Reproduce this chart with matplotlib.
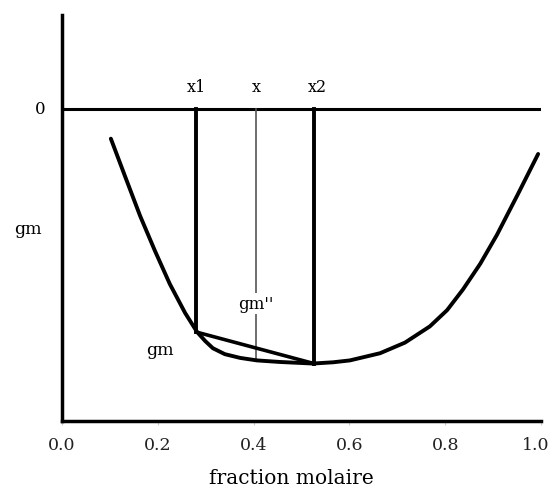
import matplotlib
matplotlib.use("Agg")
import matplotlib.pyplot as plt
from matplotlib.transforms import ScaledTranslation

plt.rcParams['font.family'] = 'DejaVu Serif'

# free-energy-of-mixing curve gm(x)
curve_x = [0.102, 0.132, 0.163, 0.194, 0.225, 0.257, 0.282, 0.299, 0.315, 0.340,
           0.372, 0.407, 0.455, 0.524, 0.566, 0.601, 0.664, 0.716, 0.768, 0.804,
           0.837, 0.873, 0.908, 0.952, 0.994]
curve_gm = [-0.096, -0.218, -0.343, -0.455, -0.561, -0.654, -0.715, -0.744, -0.767, -0.786,
            -0.798, -0.806, -0.811, -0.816, -0.812, -0.806, -0.783, -0.749, -0.697, -0.645,
            -0.579, -0.497, -0.404, -0.273, -0.145]

# common tangent / chord end points and the mean composition
x1, gm1 = 0.280, -0.715
x2, gm2 = 0.526, -0.816
x_mid, gm_mid = 0.405, -0.806

xticks = [0.0, 0.2, 0.4, 0.6, 0.8, 1.0]
xtick_labels = ['0.0', '0.2', '0.4', '0.6', '0.8', '1.0']

fig = plt.figure(figsize=(5.53, 4.89), dpi=100)
ax = fig.add_axes([62 / 553, 67 / 489, 479 / 553, 406 / 489])

ax.set_xlim(0, 1)
ax.set_ylim(-1.0, 0.30)

# zero level
ax.axhline(0, color='black', lw=2.2, zorder=2)

# curve and chord
ax.plot(curve_x, curve_gm, color='black', lw=2.8, solid_capstyle='round',
        solid_joinstyle='round', zorder=3)
ax.plot([x1, x2], [gm1, gm2], color='black', lw=2.6, solid_capstyle='round', zorder=3)

# verticals at x1, x2 and the thin one at x
ax.plot([x1, x1], [0, gm1], color='black', lw=2.8, zorder=3)
ax.plot([x2, x2], [0, gm2], color='black', lw=2.8, zorder=3)
ax.plot([x_mid, x_mid], [0, gm_mid], color='#555555', lw=1.2, zorder=2)

# labels above the zero line
for xv, lab in [(x1, 'x1'), (x_mid, 'x'), (x2 + 0.008, 'x2')]:
    ax.text(xv, 0.045, lab, ha='center', va='bottom', fontsize=11.5)

ax.text(x_mid, -0.625, "gm''", ha='center', va='center', fontsize=12,
        bbox=dict(facecolor='white', edgecolor='none', pad=1.5), zorder=4)
ax.text(0.205, -0.77, 'gm', ha='center', va='center', fontsize=12.5)

ax.text(-0.046, 0.0, '0', ha='center', va='center', fontsize=12, clip_on=False)
ax.text(-0.071, -0.385, 'gm', ha='center', va='center', fontsize=12.5, clip_on=False)

# axes styling
for side in ['top', 'right']:
    ax.spines[side].set_visible(False)
for side in ['left', 'bottom']:
    ax.spines[side].set_linewidth(2.5)

ax.set_yticks([])
ax.set_xticks(xticks)
ax.set_xticklabels(xtick_labels, fontsize=12.5, color='#222222')
ax.tick_params(axis='x', length=3, color='#cccccc', pad=8)

# pull the last tick label in so it stays on the canvas
last = ax.get_xticklabels()[-1]
last.set_transform(last.get_transform() + ScaledTranslation(-4 / 72, 0, fig.dpi_scale_trans))

ax.set_xlabel('fraction molaire', fontsize=14.5, va='center')
ax.xaxis.set_label_coords(0.478, -0.138)

fig.savefig('out.png', dpi=100)
